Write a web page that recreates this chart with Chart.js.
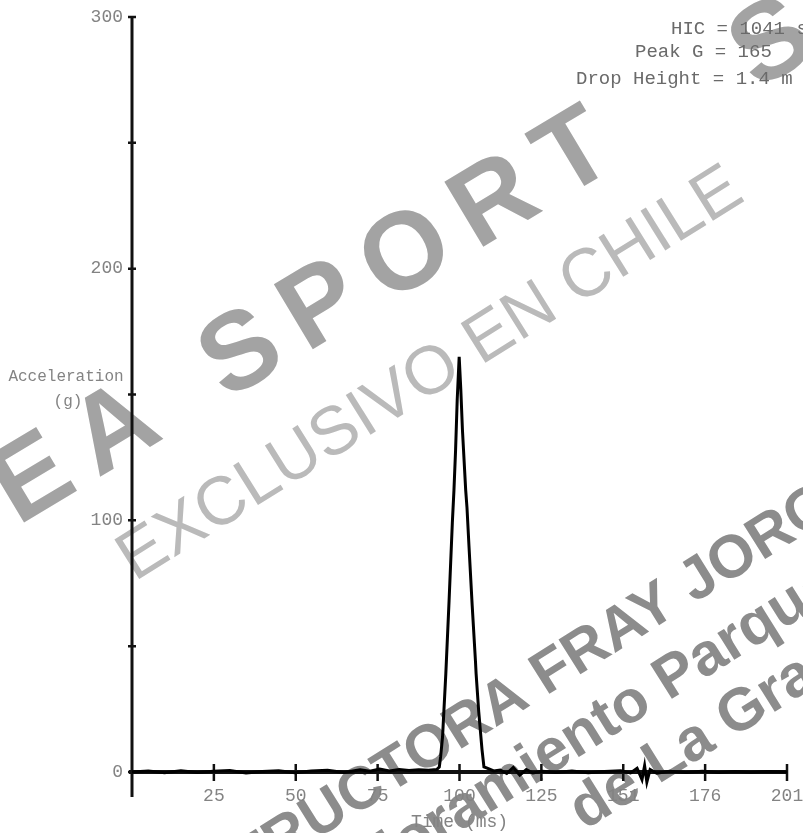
<!DOCTYPE html>
<html>
<head>
<meta charset="utf-8">
<script src="https://cdn.jsdelivr.net/npm/chart.js@4.4.0/dist/chart.umd.min.js"></script>
<style>
  html, body { margin: 0; padding: 0; background: #fff; }
  #wrap { width: 803px; height: 833px; }
</style>
</head>
<body>
<div id="wrap"><canvas id="impact"></canvas></div>
<script>
// === Data ===
const timeMs = [0, 5, 10, 15, 20, 25, 30, 35, 40, 45, 50, 55, 60, 65, 70, 73, 76, 79, 82, 85, 88, 91, 93.5,
  94.3, 94.7, 95.3, 96.3, 97.3, 98.3, 98.8, 99.3, 99.8, 100.4, 100.9, 101.4, 102.4, 102.8, 103.4, 104.4,
  105.4, 105.6, 106.4, 107.4, 108.0, 109, 111, 113, 115, 117, 119, 121, 123, 126, 130, 135, 140, 145, 150,
  153, 155, 156.5, 157.3, 158, 159, 161, 165, 170, 175, 180, 185, 190, 195, 201];
const accelG = [0, 0.4, -0.3, 0.5, -0.2, 0.3, 0.6, -0.4, 0.2, 0.5, -0.3, 0.4, 0.7, -0.2, 0.9, 0.3, 1.2, 0.4, 1.0, 0.6, 0.9, 0.7, 1.0,
  2, 6, 14, 39, 68, 99, 112, 128, 148, 165, 152, 136, 112,
  105, 90, 66,
  44, 39, 24, 9, 2, 1.5, 0.4, 0.8, -0.6, 1.8, -1.2, 1.0, -0.4, 0.3, -0.2, 0.4, -0.3, 0.2, 0.5,
  -0.4, 1.5, -3, 2.5, -4, 1, -0.5, 0.3, -0.2, 0.3, -0.2, 0.2, -0.1, 0.2, 0];
const xMax = 201;
const xTickLabels = ["", "25", "50", "75", "100", "125", "151", "176", "201"];
const yTickLabels = [0, 100, 200, 300];
const infoLines = ["HIC = 1041 s", "Peak G = 165", "Drop Height = 1.4 m"];

// === Styles ===
const TXT = "#838383";
const MONO = "'Liberation Mono', 'DejaVu Sans Mono', monospace";

const points = timeMs.map((t, i) => ({ x: t, y: accelG[i] }));

// axes drawn by hand so they cross like the original plot
const axesPlugin = {
  id: "axes",
  beforeDatasetsDraw(chart) {
    const { ctx, scales: { x, y } } = chart;
    const x0 = x.getPixelForValue(0);
    const y0 = y.getPixelForValue(0);
    ctx.save();
    ctx.strokeStyle = "#111";
    ctx.lineWidth = 3;
    ctx.beginPath();
    ctx.moveTo(x0, y.getPixelForValue(300));
    ctx.lineTo(x0, y0 + 25);
    ctx.stroke();
    ctx.lineWidth = 4;
    ctx.beginPath();
    ctx.moveTo(x0 - 3, y0);
    ctx.lineTo(x.getPixelForValue(xMax), y0);
    ctx.stroke();
    ctx.lineWidth = 2.5;
    ctx.beginPath();
    y.ticks.forEach((t, i) => {
      const py = y.getPixelForTick(i);
      ctx.moveTo(x0 - 4, py);
      ctx.lineTo(x0 + 4, py);
    });
    x.ticks.forEach((t, i) => {
      if (i === 0) return;
      const px = x.getPixelForTick(i);
      ctx.moveTo(px, y0 - 8);
      ctx.lineTo(px, y0 + 9);
    });
    ctx.stroke();
    ctx.restore();
  }
};

function drawRotated(ctx, text, size, weight, color, angle, idx, cx, cy, spacing) {
  ctx.save();
  ctx.font = weight + " " + size + "px 'Liberation Sans', Arial, sans-serif";
  ctx.letterSpacing = (spacing || 0) + "px";
  const pre = ctx.measureText(text.slice(0, idx)).width;
  const cw = ctx.measureText(text[idx]).width;
  ctx.translate(cx, cy);
  ctx.rotate(-angle * Math.PI / 180);
  ctx.fillStyle = color;
  ctx.textBaseline = "alphabetic";
  ctx.fillText(text, -pre - cw / 2, size * 0.36);
  ctx.restore();
}

const textPlugin = {
  id: "texts",
  afterDraw(chart) {
    const { ctx, chartArea: a } = chart;
    ctx.save();
    ctx.fillStyle = TXT;
    ctx.font = "16px " + MONO;
    ctx.textAlign = "center";
    ctx.textBaseline = "middle";
    ctx.fillText("Acceleration", 66, 377);
    ctx.fillText("(g)", 68, 402);
    ctx.font = "18px " + MONO;
    ctx.fillText("Time (ms)", (a.left + a.right) / 2, 822);
    ctx.textAlign = "left";
    ctx.fillStyle = "#6a6a6a";
    ctx.font = "19px " + MONO;
    ctx.fillText(infoLines[0], 671, 29);
    ctx.fillText(infoLines[1], 635, 52);
    ctx.fillText(infoLines[2], 576, 79);
    ctx.restore();

    // watermarks
    ctx.save();
    ctx.globalCompositeOperation = "darken";
    drawRotated(ctx, "AREA SPORT", 110, "bold", "#a3a3a3", 31, 5, 246, 343, 20);
    drawRotated(ctx, "S", 110, "bold", "#a3a3a3", 31, 0, 768, 38, 0);
    drawRotated(ctx, "EXCLUSIVO EN CHILE", 68, "normal", "#bababa", 32, 11, 527, 308);
    drawRotated(ctx, "CONSTRUCTORA FRAY JORGE", 60, "bold", "#8c8c8c", 32, 13, 550, 668);
    drawRotated(ctx, "Mejoramiento Parque", 60, "bold", "#8c8c8c", 32, 13, 674, 672);
    drawRotated(ctx, "de La Gran", 60, "bold", "#8c8c8c", 32, 6, 740, 708);
    ctx.restore();
  }
};

new Chart(document.getElementById("impact"), {
  type: "line",
  data: {
    datasets: [{
      data: points,
      borderColor: "#000",
      borderWidth: 3,
      pointRadius: 0,
      tension: 0,
      fill: false,
      clip: false,
    }]
  },
  options: {
    responsive: true,
    maintainAspectRatio: false,
    animation: false,
    layout: { padding: { top: 17, right: 16, left: 0, bottom: 0 } },
    plugins: { legend: { display: false }, tooltip: { enabled: false } },
    scales: {
      x: {
        type: "linear",
        min: 0,
        max: xMax,
        border: { display: false },
        grid: { display: false },
        afterBuildTicks: s => {
          s.ticks = xTickLabels.map((l, i) => ({ value: i * xMax / (xTickLabels.length - 1) }));
        },
        ticks: {
          autoSkip: false,
          maxRotation: 0,
          padding: 5,
          color: TXT,
          font: { family: MONO, size: 18 },
          callback: (v, i) => xTickLabels[i]
        },
        afterFit: s => { s.height = 61; s.paddingLeft = 0; s.paddingRight = 0; }
      },
      y: {
        min: 0,
        max: 300,
        border: { display: false },
        grid: { display: false },
        ticks: {
          stepSize: 50,
          padding: 1,
          color: TXT,
          font: { family: MONO, size: 18 },
          callback: v => (yTickLabels.includes(v) ? String(v) : "")
        },
        afterFit: s => { s.width = 132; s.paddingTop = 0; s.paddingBottom = 0; }
      }
    }
  },
  plugins: [axesPlugin, textPlugin]
});
</script>
</body>
</html>
